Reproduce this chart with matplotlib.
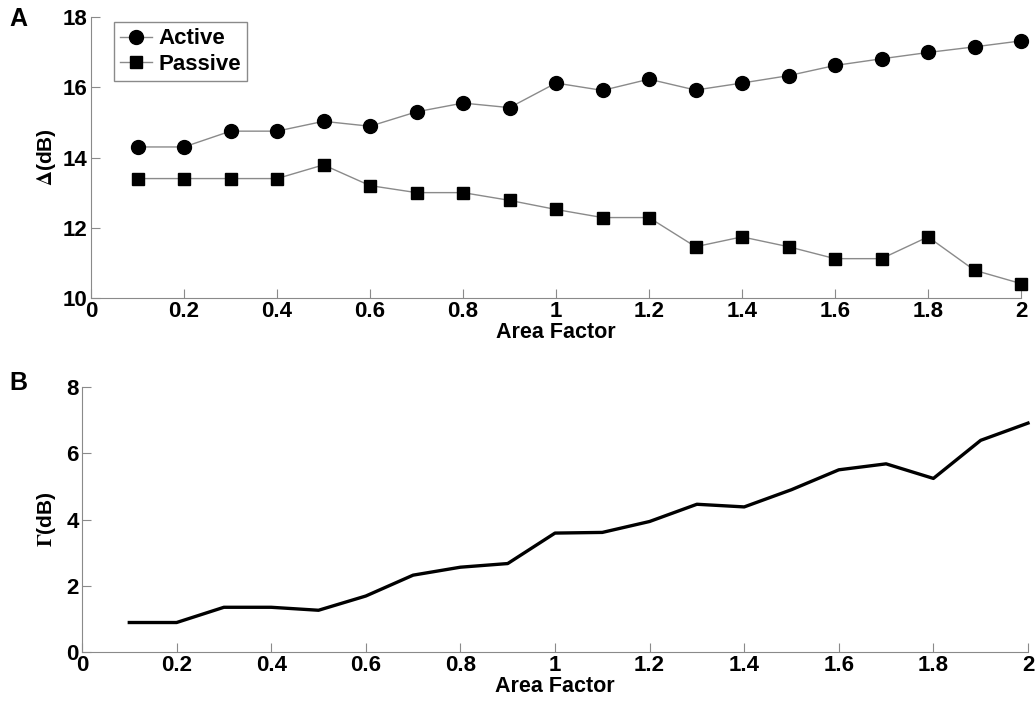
import numpy as np
import matplotlib
matplotlib.use("Agg")
import matplotlib.pyplot as plt

# area factor values (x axis)
area = [0.1, 0.2, 0.3, 0.4, 0.5, 0.6, 0.7, 0.8, 0.9, 1.0,
        1.1, 1.2, 1.3, 1.4, 1.5, 1.6, 1.7, 1.8, 1.9, 2.0]

# panel A : Delta (dB)
active = [14.30, 14.30, 14.75, 14.75, 15.03, 14.89, 15.30, 15.55, 15.42, 16.12,
          15.91, 16.23, 15.92, 16.12, 16.33, 16.62, 16.81, 16.99, 17.15, 17.32]
passive = [13.40, 13.40, 13.40, 13.40, 13.79, 13.20, 13.00, 13.00, 12.78, 12.52,
           12.29, 12.29, 11.46, 11.74, 11.46, 11.12, 11.12, 11.74, 10.79, 10.41]

# panel B : Gamma (dB)
gamma = [0.89, 0.89, 1.35, 1.35, 1.26, 1.69, 2.32, 2.56, 2.67, 3.59,
         3.61, 3.94, 4.46, 4.38, 4.90, 5.50, 5.68, 5.24, 6.39, 6.91]

xticks = [0, 0.2, 0.4, 0.6, 0.8, 1, 1.2, 1.4, 1.6, 1.8, 2]
xticklabels = ['0', '0.2', '0.4', '0.6', '0.8', '1', '1.2', '1.4', '1.6', '1.8', '2']
yticks_a = [10, 12, 14, 16, 18]
yticks_b = [0, 2, 4, 6, 8]

plt.rcParams['font.family'] = ['Liberation Sans', 'DejaVu Sans']
plt.rcParams['font.weight'] = 'bold'
plt.rcParams['font.size'] = 16
plt.rcParams['mathtext.fontset'] = 'stix'

grey = '#8a8a8a'

fig = plt.figure(figsize=(10.35, 7.01), dpi=100)
W, H = 1035.0, 701.0
axA = fig.add_axes([91 / W, 1 - 298 / H, (1021 - 91) / W, (298 - 17) / H])
axB = fig.add_axes([82 / W, 1 - 652 / H, (1028 - 82) / W, (652 - 387) / H])


def style(ax):
    ax.spines['top'].set_visible(False)
    ax.spines['right'].set_visible(False)
    ax.spines['left'].set_color(grey)
    ax.spines['bottom'].set_color(grey)
    ax.tick_params(direction='in', length=6.5, width=0.8, color=grey,
                   labelsize=16, pad=2.5)
    ax.set_xlim(0, 2)
    ax.set_xticks(xticks)
    ax.set_xticklabels(xticklabels, fontweight='bold')
    ax.set_xlabel('Area Factor', fontweight='bold', fontsize=15.5, labelpad=0)


# panel A
axA.plot(area, active, color=grey, lw=1, marker='o', ms=10,
         mfc='black', mec='black', label='Active', clip_on=False)
axA.plot(area, passive, color=grey, lw=1, marker='s', ms=8,
         mfc='black', mec='black', label='Passive', clip_on=False)
style(axA)
axA.set_ylim(10, 18)
axA.set_yticks(yticks_a)
axA.set_ylabel(r'$\Delta$(dB)', fontweight='bold', fontsize=15)
axA.yaxis.set_label_coords(-0.036, 0.5)
leg = axA.legend(loc='upper left', bbox_to_anchor=(0.025, 0.982),
                 borderaxespad=0, fancybox=False, framealpha=1,
                 edgecolor=grey, handlelength=1.4, handletextpad=0.3,
                 borderpad=0.28, labelspacing=0.22,
                 prop={'weight': 'bold', 'size': 16})
leg.get_frame().set_linewidth(1)

# panel B
axB.plot(area, gamma, color='black', lw=2.4, clip_on=False)
style(axB)
axB.set_ylim(0, 8)
axB.set_yticks(yticks_b)
axB.set_ylabel(r'$\Gamma$(dB)', fontweight='bold', fontsize=15)
axB.yaxis.set_label_coords(-0.025, 0.5)

fig.text(9 / W, 1 - 19 / H, 'A', fontsize=18, fontweight='bold', va='center')
fig.text(9 / W, 1 - 383 / H, 'B', fontsize=18, fontweight='bold', va='center')

fig.savefig('out.png', dpi=100)
